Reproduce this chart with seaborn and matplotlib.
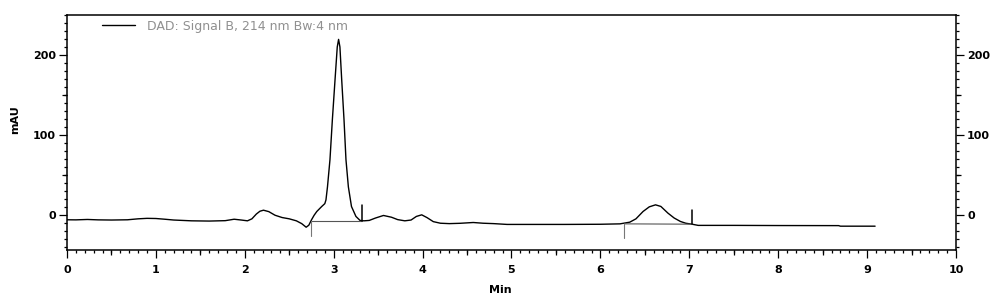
import matplotlib
matplotlib.use("Agg")
import matplotlib.pyplot as plt
import seaborn as sns
import pandas as pd
from matplotlib.ticker import MultipleLocator, FixedLocator, NullFormatter

# ---- data ----
time_min = [0.00, 0.10, 0.23, 0.35, 0.50, 0.68, 0.80, 0.90, 1.00, 1.10, 1.20,
            1.40, 1.60, 1.78, 1.88, 1.96, 2.03, 2.08, 2.13, 2.17, 2.21, 2.27,
            2.34, 2.42, 2.50, 2.58, 2.64, 2.69, 2.72, 2.75, 2.78, 2.81, 2.865,
            2.90, 2.913, 2.93, 2.958, 2.985, 3.015, 3.04, 3.055, 3.07, 3.09,
            3.116, 3.138, 3.165, 3.20, 3.25, 3.296, 3.34, 3.40, 3.47, 3.56,
            3.65, 3.72, 3.80, 3.87, 3.93, 3.99, 4.05, 4.12, 4.20, 4.30, 4.42,
            4.57, 4.68, 4.80, 4.95, 5.20, 5.60, 6.00, 6.22, 6.33, 6.40, 6.48,
            6.55, 6.62, 6.68, 6.76, 6.83, 6.90, 6.96, 7.03, 7.10, 7.50, 8.00,
            8.68, 8.70, 9.09]
signal_mau = [-6.2, -6.3, -5.8, -6.3, -6.5, -6.2, -5.0, -4.4, -4.6, -5.5, -6.5,
              -7.5, -7.8, -7.3, -5.5, -6.5, -7.5, -5.0, 1.0, 4.5, 5.8, 4.0,
              -0.5, -3.4, -5.0, -7.5, -11.0, -15.5, -13.0, -6.3, -0.5, 4.2, 10.4,
              14.0, 18.7, 35.0, 69.0, 119.0, 169.0, 210.0, 219.5, 210.0, 169.0,
              119.0, 69.0, 35.0, 10.4, -2.0, -7.0, -7.5, -7.0, -4.0, -0.8,
              -3.0, -6.0, -7.5, -6.5, -2.0, 0.0, -3.5, -8.5, -10.5, -11.0, -10.6,
              -9.6, -10.5, -11.0, -12.0, -12.0, -12.0, -11.8, -11.3, -9.2, -5.0, 4.2,
              10.0, 12.5, 10.5, 2.1, -4.0, -8.3, -10.5, -11.7, -13.2, -13.2, -13.4,
              -13.5, -14.2, -14.2]

# integration baselines (start/end time, start/end level)
base_t0 = [2.75, 6.27]
base_t1 = [3.32, 7.03]
base_y0 = [-7.5, -11.3]
base_y1 = [-7.5, -11.7]
# start marks (drop down), end marks (rise up)
start_mark_bottom = [-26.0, -29.0]
end_mark_top = [12.5, 6.0]

x_ticks = [0, 1, 2, 3, 4, 5, 6, 7, 8, 9, 10]
x_mid_ticks = [0.5, 1.5, 2.5, 3.5, 4.5, 5.5, 6.5, 7.5, 8.5, 9.5]
y_ticks = [0, 100, 200]
y_mid_ticks = [50, 150]
legend_label = "DAD: Signal B, 214 nm Bw:4 nm"

# ---- drawing ----
sns.set_theme(style="white")
plt.rcParams['font.family'] = ['DejaVu Sans']
plt.rcParams['text.color'] = 'black'
plt.rcParams['axes.labelcolor'] = 'black'
plt.rcParams['xtick.color'] = 'black'
plt.rcParams['ytick.color'] = 'black'

fig = plt.figure(figsize=(9.95, 2.99), dpi=100)
ax = fig.add_axes([67/995, 1 - 250/299, (956-67)/995, (250-15)/299])

df = pd.DataFrame({"Min": time_min, "mAU": signal_mau})
sns.lineplot(data=df, x="Min", y="mAU", ax=ax, color="black", lw=1.0,
             estimator=None, sort=False, label=legend_label)

for t0, t1, y0, y1, yb, yt in zip(base_t0, base_t1, base_y0, base_y1,
                                  start_mark_bottom, end_mark_top):
    ax.plot([t0, t1], [y0, y1], color="#555555", lw=0.8)
    ax.plot([t0, t0], [y0, yb], color="#777777", lw=0.8)
    ax.plot([t1, t1], [y1, yt], color="black", lw=1.1)

ax.set_xlim(0, 10)
ax.set_ylim(-44, 250)

ax.xaxis.set_major_locator(FixedLocator(x_ticks))
ax.xaxis.set_minor_locator(MultipleLocator(0.1))
ax.yaxis.set_major_locator(FixedLocator(y_ticks))
ax.yaxis.set_minor_locator(MultipleLocator(10))

for s in ["left", "right", "bottom", "top"]:
    ax.spines[s].set_visible(True)
    ax.spines[s].set_color("black")
    ax.spines[s].set_linewidth(1.1)

ax.tick_params(which="both", direction="out", color="black", width=0.9,
               left=True, right=True, bottom=True, top=False,
               labelright=True, labelleft=True, labelsize=8,
               labelcolor="black")
ax.tick_params(which="major", length=6)
ax.tick_params(which="minor", length=2.0)
ax.tick_params(axis="x", which="major", pad=5)
ax.tick_params(axis="y", which="major", pad=2)
for t in ax.xaxis.get_major_ticks():
    t.label1.set_fontweight("bold")
for t in ax.yaxis.get_major_ticks():
    t.label1.set_fontweight("bold")
    t.label2.set_fontweight("bold")

# medium ticks
for side in ["left", "right"]:
    sec = ax.secondary_yaxis(side)
    sec.set_yticks(y_mid_ticks)
    sec.yaxis.set_major_formatter(NullFormatter())
    sec.tick_params(length=3.5, width=0.9, direction="out", color="black")
    sec.spines[side].set_visible(False)
secx = ax.secondary_xaxis("bottom")
secx.set_xticks(x_mid_ticks)
secx.xaxis.set_major_formatter(NullFormatter())
secx.tick_params(length=3.5, width=0.9, direction="out", color="black")
secx.spines["bottom"].set_visible(False)

ax.set_xlabel("Min", fontweight="bold", fontsize=8, color="black")
ax.xaxis.set_label_coords(0.487, -0.149)
ax.set_ylabel("mAU", fontweight="bold", fontsize=8, color="black")
ax.yaxis.set_label_coords(-0.053, 0.553)

leg = ax.legend(loc="center left", frameon=False, fontsize=9, handlelength=2.65,
                bbox_to_anchor=(0.039, 0.953), handletextpad=1.0,
                borderpad=0, borderaxespad=0)
for txt in leg.get_texts():
    txt.set_color("#909090")
for ln in leg.get_lines():
    ln.set_linewidth(1.0)
    ln.set_color("black")

fig.savefig("out.png", dpi=100)
